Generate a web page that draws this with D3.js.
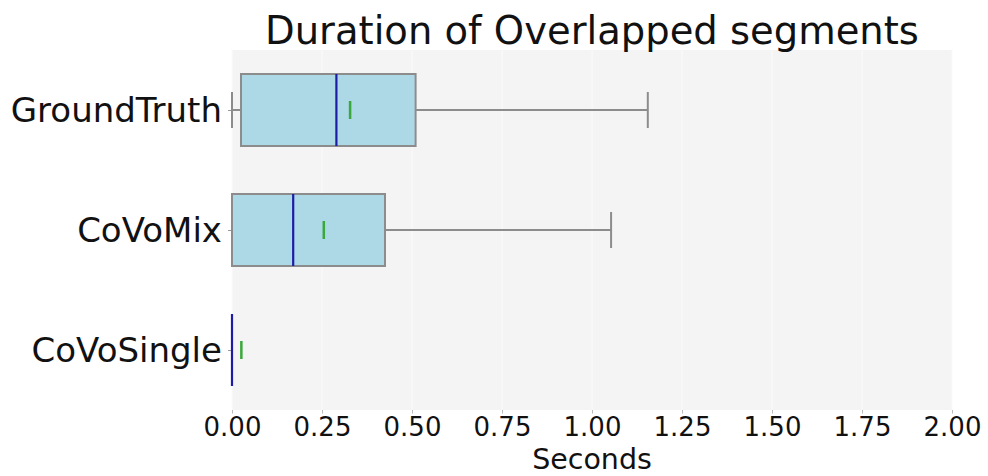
<!DOCTYPE html>
<html>
<head>
<meta charset="utf-8">
<script src="https://cdn.jsdelivr.net/npm/d3@7"></script>
<style>
  body { margin: 0; background: #fff; }
  svg { display: block; font-family: "DejaVu Sans", sans-serif; }
</style>
</head>
<body>
<svg id="chart" width="988" height="476"></svg>
<script>
// 數據
const categories = ['GroundTruth', 'CoVoMix', 'CoVoSingle']
const whiskerLow = [0, 0, 0]
const q1 = [0.025, 0, 0]
const median = [0.29, 0.17, 0]
const q3 = [0.51, 0.425, 0]
const whiskerHigh = [1.155, 1.053, 0]
const mean = [0.328, 0.255, 0.026]
const xTicks = [0, 0.25, 0.5, 0.75, 1, 1.25, 1.5, 1.75, 2]

const margin = { top: 50, right: 36, bottom: 66, left: 232 }
const width = 988 - margin.left - margin.right
const height = 476 - margin.top - margin.bottom

const svg = d3.select('#chart')
const g = svg.append('g').attr('transform', `translate(${margin.left}, ${margin.top})`)

const x = d3.scaleLinear().domain([0, 2]).range([0, width])
// 位置 1..3，上方是 GroundTruth
const y = d3.scaleLinear().domain([3.5, 0.5]).range([0, height])
const pos = (i) => 3 - i
const boxH = y(0.5) - y(1.1) // 箱寬 0.6

// 背景
g.append('rect').attr('width', width).attr('height', height).attr('fill', '#f4f4f4')

// 格線
g.selectAll('.grid').data(xTicks).enter().append('line')
    .attr('x1', (d) => x(d)).attr('x2', (d) => x(d))
    .attr('y1', 0).attr('y2', height)
    .attr('stroke', '#fbfbfb').attr('stroke-width', 1)

// 座標軸
const xAxis = g.append('g').attr('transform', `translate(0, ${height})`)
    .call(d3.axisBottom(x).tickValues(xTicks).tickFormat(d3.format('.2f')).tickSize(3.5).tickPadding(4.5))
xAxis.select('.domain').remove()
xAxis.selectAll('line').attr('stroke', '#bbbbbb')
xAxis.selectAll('text').attr('font-size', '26px').attr('fill', '#111').attr('font-family', 'DejaVu Sans')

const yAxis = g.append('g')
    .call(d3.axisLeft(y).tickValues(categories.map((d, i) => pos(i))).tickFormat((d) => categories[3 - d]).tickSize(4).tickPadding(6))
yAxis.select('.domain').remove()
yAxis.selectAll('line').attr('stroke', '#999999')
yAxis.selectAll('text').attr('font-size', '34px').attr('fill', '#111').attr('font-family', 'DejaVu Sans').attr('dy', '0.35em')

// 箱線
const data = categories.map((c, i) => ({
    name: c, lo: whiskerLow[i], q1: q1[i], med: median[i], q3: q3[i], hi: whiskerHigh[i], mean: mean[i], p: pos(i)
}))

const box = g.selectAll('.box').data(data).enter().append('g').attr('class', 'box')

// 須
box.append('line')
    .attr('x1', (d) => x(d.lo)).attr('x2', (d) => x(d.q1))
    .attr('y1', (d) => y(d.p)).attr('y2', (d) => y(d.p))
    .attr('stroke', '#8c8c8c').attr('stroke-width', 2)
box.append('line')
    .attr('x1', (d) => x(d.q3)).attr('x2', (d) => x(d.hi))
    .attr('y1', (d) => y(d.p)).attr('y2', (d) => y(d.p))
    .attr('stroke', '#8c8c8c').attr('stroke-width', 2)
// 帽
box.filter((d) => d.hi > 0).append('line')
    .attr('x1', (d) => x(d.hi)).attr('x2', (d) => x(d.hi))
    .attr('y1', (d) => y(d.p) - boxH / 4).attr('y2', (d) => y(d.p) + boxH / 4)
    .attr('stroke', '#8c8c8c').attr('stroke-width', 2)
box.filter((d) => d.q1 > d.lo).append('line')
    .attr('x1', (d) => x(d.lo)).attr('x2', (d) => x(d.lo))
    .attr('y1', (d) => y(d.p) - boxH / 4).attr('y2', (d) => y(d.p) + boxH / 4)
    .attr('stroke', '#8c8c8c').attr('stroke-width', 2)

// 箱
box.filter((d) => d.q3 > d.q1).append('rect')
    .attr('x', (d) => x(d.q1)).attr('width', (d) => x(d.q3) - x(d.q1))
    .attr('y', (d) => y(d.p) - boxH / 2).attr('height', boxH)
    .attr('fill', '#add8e6').attr('stroke', '#8c8c8c').attr('stroke-width', 2)

// 中位數
box.append('line')
    .attr('x1', (d) => x(d.med)).attr('x2', (d) => x(d.med))
    .attr('y1', (d) => y(d.p) - boxH / 2).attr('y2', (d) => y(d.p) + boxH / 2)
    .attr('stroke', '#1c1ca6').attr('stroke-width', 2.2)

// 平均數
box.append('line')
    .attr('x1', (d) => x(d.mean)).attr('x2', (d) => x(d.mean))
    .attr('y1', (d) => y(d.p) - 9).attr('y2', (d) => y(d.p) + 9)
    .attr('stroke', '#3aa83a').attr('stroke-width', 2.5)

// 標題
svg.append('text')
    .attr('x', margin.left + width / 2).attr('y', 44)
    .attr('text-anchor', 'middle')
    .attr('font-size', '38.5px').attr('fill', '#111')
    .text('Duration of Overlapped segments')

// X 軸標籤
svg.append('text')
    .attr('x', margin.left + width / 2).attr('y', 469)
    .attr('text-anchor', 'middle')
    .attr('font-size', '28.5px').attr('fill', '#111')
    .text('Seconds')
</script>
</body>
</html>
